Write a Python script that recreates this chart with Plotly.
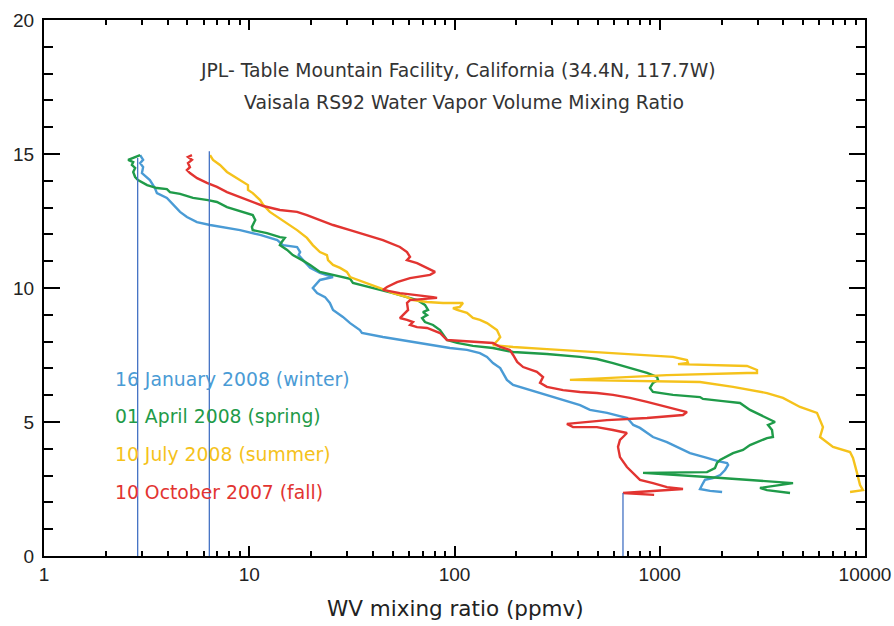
import plotly.graph_objects as go

# ---------------- data (altitude km, mixing ratio ppmv) ----------------
winter_alt = [14.96, 14.78, 14.66, 14.51, 14.29, 14.03, 13.73, 13.54, 13.36, 13.10, 12.84, 12.65, 12.46, 12.35,
              12.28, 12.16, 11.98, 11.87, 11.79, 11.60, 11.53, 11.34, 11.23, 11.04, 10.75, 10.56, 10.41, 10.30,
              10.00, 9.81, 9.66, 9.44, 9.18, 8.92, 8.69, 8.43, 8.32, 8.17, 8.06, 7.95, 7.87, 7.76, 7.69, 7.57,
              7.43, 7.20, 7.01, 6.83, 6.57, 6.38, 6.19, 6.01, 5.82, 5.63, 5.45, 5.34, 5.15, 4.89, 4.78, 4.44,
              4.25, 4.07, 3.84, 3.66, 3.54, 3.47, 3.40, 3.21, 3.02, 2.91, 2.84, 2.65, 2.50, 2.43, 2.39]
winter_ppmv = [2.94, 3.04, 2.94, 3.04, 3.0, 3.28, 3.47, 3.55, 3.97, 4.25, 4.60, 4.97, 5.56, 6.44,
               7.45, 9.02, 11.3, 12.6, 13.7, 14.6, 17.1, 17.7, 17.4, 18.3, 19.8, 22.1, 25.6, 22.1,
               20.4, 21.4, 23.4, 24.7, 25.6, 28.6, 31.0, 34.6, 35.4, 44.8, 54.2, 65.7, 78.6, 95, 115, 133,
               144, 154, 167, 172, 180, 193, 233, 282, 338, 409, 457, 554, 695, 743, 801, 927,
               1084, 1213, 1404, 1699, 1922, 2128, 2153, 2080, 1970, 1817, 1660, 1607, 1571, 1757, 2013]

spring_alt = [14.96, 14.78, 14.70, 14.59, 14.48, 14.33, 14.14, 14.03, 13.84, 13.73, 13.69, 13.58, 13.51, 13.36,
              13.28, 13.21, 13.02, 12.91, 12.80, 12.72, 12.54, 12.28, 12.16, 12.05, 11.90, 11.87, 11.72, 11.60,
              11.42, 11.23, 11.04, 10.86, 10.60, 10.49, 10.34, 10.19, 10.04, 9.93, 9.81, 9.66, 9.55, 9.37,
              9.18, 9.10, 8.99, 8.88, 8.73, 8.62, 8.43, 8.06, 7.95, 7.84, 7.76, 7.61, 7.54, 7.43, 7.35, 7.20,
              7.01, 6.83, 6.68, 6.57, 6.46, 6.27, 6.12, 6.01, 5.93, 5.86, 5.78, 5.71, 5.45, 5.26, 5.15, 5.00,
              4.89, 4.70, 4.44, 4.40, 4.14, 3.96, 3.84, 3.58, 3.47, 3.28, 3.13, 3.10, 2.95, 2.72, 2.54, 2.46, 2.35]
spring_ppmv = [2.94, 2.57, 2.72, 2.68, 2.78, 2.72, 2.78, 2.87, 3.18, 3.55, 3.97, 4.11, 4.60, 5.32,
               6.30, 6.96, 7.79, 8.71, 9.75, 10.4, 10.7, 10.3, 10.4, 12.2, 14.1, 14.9, 14.4, 14.1,
               15.3, 16.3, 18.1, 19.8, 22.1, 25.6, 31.0, 32.0, 37.5, 43.4, 50.2, 58.7, 65.7, 71.8,
               74.3, 70.2, 73.5, 69.5, 71.8, 78.6, 85.0, 91.9, 103, 123, 154, 193, 282, 409, 494, 592,
               716, 867, 970, 981, 927, 896, 927, 1160, 1571, 1624, 2033, 2460, 2752, 3079, 3330, 3644,
               3369, 3524, 3560, 3330, 2752, 2545, 2275, 1966, 1900, 1858, 1699, 829, 1699, 4460, 3079, 3330, 4312]

summer_alt = [14.96, 14.78, 14.59, 14.33, 14.14, 13.96, 13.84, 13.66, 13.54, 13.28, 13.10, 12.84, 12.65, 12.43,
              12.16, 11.87, 11.60, 11.34, 11.23, 11.04, 10.86, 10.75, 10.60, 10.41, 10.19, 10.00, 9.81, 9.66,
              9.55, 9.48, 9.44, 9.44, 9.29, 9.25, 9.18, 9.07, 8.88, 8.81, 8.69, 8.54, 8.43, 8.17, 8.06, 7.87,
              7.80, 7.72, 7.65, 7.57, 7.50, 7.43, 7.31, 7.20, 7.16, 7.13, 7.09, 6.94, 6.83, 6.83, 6.75, 6.57,
              6.53, 6.49, 6.31, 6.08, 5.90, 5.56, 5.34, 4.81, 4.44, 4.07, 3.88, 3.66, 3.10, 2.65, 2.46, 2.39]
summer_ppmv = [6.44, 6.66, 7.20, 7.79, 8.52, 9.32, 9.86, 9.86, 10.4, 11.3, 11.7, 12.6, 13.7, 15.3,
               17.1, 19.1, 20.4, 22.1, 23.9, 24.2, 25.6, 27.7, 29.9, 31.0, 37.5, 43.4, 50.2, 58.7,
               62.8, 73.5, 87.9, 110, 106, 98.3, 103, 115, 123, 133, 144, 154, 161, 167, 163, 154,
               193, 282, 409, 592, 867, 1160, 1357, 1373, 1227, 1699, 2661, 2977, 2977, 2661, 1084, 365,
               1002, 1571, 2275, 3330, 3984, 4824, 5835, 6240, 6038, 6985, 8455, 8740, 9142, 9459, 9776, 8455]

fall_alt = [14.96, 14.89, 14.78, 14.66, 14.51, 14.40, 14.29, 14.10, 13.92, 13.77, 13.58, 13.40, 13.21, 13.06,
            12.91, 12.84, 12.72, 12.54, 12.35, 12.16, 11.98, 11.79, 11.53, 11.34, 11.16, 11.04, 10.93, 10.75,
            10.60, 10.49, 10.37, 10.22, 10.04, 9.93, 9.81, 9.66, 9.63, 9.55, 9.44, 9.18, 8.99, 8.88, 8.81, 8.73,
            8.62, 8.54, 8.51, 8.43, 8.32, 8.06, 7.99, 7.95, 7.80, 7.69, 7.50, 7.24, 7.05, 6.87, 6.68, 6.46,
            6.31, 6.19, 6.12, 6.08, 6.01, 5.90, 5.75, 5.63, 5.52, 5.37, 5.26, 5.15, 5.07, 4.93, 4.81, 4.81,
            4.70, 4.59, 4.44, 4.33, 4.07, 3.69, 3.32, 3.10, 2.84, 2.72, 2.57, 2.50, 2.35, 2.28]
fall_ppmv = [5.26, 5.03, 5.26, 5.03, 5.14, 4.97, 5.14, 5.57, 6.22, 6.96, 7.79, 9.02, 10.4, 11.7,
             14.1, 17.1, 19.1, 22.1, 25.6, 31.0, 37.5, 44.8, 54.2, 58.7, 60.7, 58.7, 65.7, 73.5,
             80.4, 76.0, 60.7, 52.5, 46.9, 44.8, 54.2, 78.6, 82.2, 60.7, 58.7, 59.4, 56.1, 54.2, 58.7, 62.8,
             60.7, 65.7, 73.5, 78.6, 85.0, 91.9, 123, 154, 167, 186, 193, 202, 216, 252, 270, 261,
             282, 338, 409, 494, 592, 716, 867, 1000, 1160, 1357, 1298, 867, 553, 353, 378, 494,
             592, 692, 662, 640, 626, 640, 692, 743, 801, 927, 1084, 1298, 662, 939]

# vertical reference lines (ppmv value, top altitude km)
vline_ppmv = [2.86, 6.39, 662]
vline_top = [14.85, 15.1, 2.35]

series_names = ["16 January 2008 (winter)", "01 April 2008 (spring)",
                "10 July 2008 (summer)", "10 October 2007 (fall)"]
series_colors = ["#4a9bd5", "#1f9b49", "#f5c21b", "#e23431"]

x_tickvals = [1, 10, 100, 1000, 10000]
x_ticktext = ["1", "10", "100", "1000", "10000"]
y_tickvals = [0, 5, 10, 15, 20]
y_ticktext = ["0", "5", "10", "15", "20"]
x_minor = [k * 10 ** n for n in range(4) for k in range(2, 10)]

title_lines = ["JPL- Table Mountain Facility, California (34.4N, 117.7W)",
               "Vaisala RS92 Water Vapor Volume Mixing Ratio"]
x_title = "WV mixing ratio (ppmv)"

# ---------------- figure ----------------
fig = go.Figure()
for xs, ys, name, col in zip([winter_ppmv, spring_ppmv, summer_ppmv, fall_ppmv],
                             [winter_alt, spring_alt, summer_alt, fall_alt],
                             series_names, series_colors):
    fig.add_trace(go.Scatter(x=xs, y=ys, mode="lines", name=name,
                             line=dict(color=col, width=2.4), showlegend=False))

for v, top in zip(vline_ppmv, vline_top):
    fig.add_trace(go.Scatter(x=[v, v], y=[0, top], mode="lines",
                             line=dict(color="#4472c4", width=1.3), showlegend=False))

W, H = 894, 626
L, R, T, B = 44, 29, 20, 70
pw, ph = W - L - R, H - T - B


def px(x):
    return (x - L) / pw


def py(y):
    return (H - B - y) / ph


annotations = [
    dict(text=title_lines[0], x=px(458), y=py(70), xref="paper", yref="paper",
         showarrow=False, xanchor="center", yanchor="middle",
         font=dict(family="DejaVu Sans", size=18.8, color="#333333")),
    dict(text=title_lines[1], x=px(464), y=py(103), xref="paper", yref="paper",
         showarrow=False, xanchor="center", yanchor="middle",
         font=dict(family="DejaVu Sans", size=18.8, color="#333333")),
    dict(text=x_title, x=px(455), y=py(608), xref="paper", yref="paper",
         showarrow=False, xanchor="center", yanchor="middle",
         font=dict(family="DejaVu Sans", size=21.5, color="#222222")),
]
for name, col, yy in zip(series_names, series_colors, [379, 416, 454, 492]):
    annotations.append(dict(text=name, x=px(113), y=py(yy), xref="paper", yref="paper",
                            showarrow=False, xanchor="left", yanchor="middle",
                            font=dict(family="DejaVu Sans", size=18.8, color=col)))

fig.update_layout(
    width=W, height=H,
    margin=dict(l=L, r=R, t=T, b=B, pad=0),
    paper_bgcolor="white", plot_bgcolor="white",
    annotations=annotations,
    xaxis=dict(type="log", range=[0, 4], tickmode="array", tickvals=x_tickvals, ticktext=x_ticktext,
               ticks="inside", ticklen=10, tickwidth=2, tickcolor="black",
               showline=True, linewidth=2, linecolor="black", mirror="ticks",
               showgrid=False, zeroline=False, automargin=False,
               tickfont=dict(family="Liberation Sans", size=19, color="#222222"),
               minor=dict(tickmode="array", tickvals=x_minor, ticks="inside", ticklen=5,
                          tickwidth=1.5, tickcolor="black", showgrid=False)),
    yaxis=dict(range=[0, 20], tickmode="array", tickvals=y_tickvals, ticktext=y_ticktext,
               ticks="inside", ticklen=16, tickwidth=2, tickcolor="black",
               showline=True, linewidth=2, linecolor="black", mirror="ticks",
               showgrid=False, zeroline=False, automargin=False, ticklabelstandoff=4,
               tickfont=dict(family="Liberation Sans", size=19, color="#222222"),
               minor=dict(dtick=1, ticks="inside", ticklen=9, tickwidth=2,
                          tickcolor="black", showgrid=False)),
)

fig.write_html("out.html")
